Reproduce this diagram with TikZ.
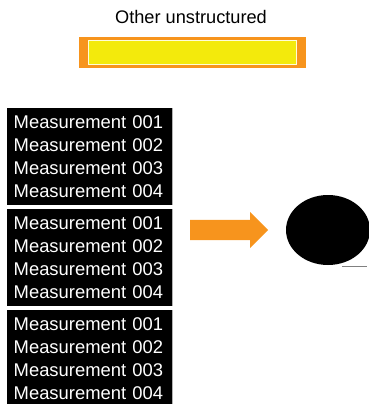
\documentclass[tikz,border=0pt]{standalone}
\usepackage{fontspec}
\setmainfont{Liberation Sans}
\usetikzlibrary{shapes.geometric,shapes.arrows}

\definecolor{boxorange}{RGB}{247,148,29}
\definecolor{boxyellow}{RGB}{243,234,12}

\tikzset{
	measbox/.style={anchor=north west, fill=black, text=white, align=left,
		minimum width=165pt, minimum height=97pt, inner xsep=6.5pt, text width=152pt,
		font=\fontsize{18.4pt}{23pt}\selectfont},
	bigarrow/.style={single arrow, fill=boxorange, minimum height=78pt, inner xsep=0pt,
		inner ysep=10pt, single arrow head extend=8pt, single arrow head indent=0pt},
}

\begin{document}
\begin{tikzpicture}[x=1pt, y=-1pt]

\useasboundingbox (0,0) rectangle (369,404);

% title and the bar below it
\node[font=\fontsize{18.2pt}{21pt}\selectfont] (title) at (191,17) {Other unstructured};
\filldraw[fill=boxorange, draw=boxorange] (79,37) rectangle (305,67);
\filldraw[fill=boxyellow, draw=white!85!yellow, thin] (88,40) rectangle (296,64);

% the three measurement blocks
\node[measbox] (meas1) at (7,108) {Measurement 001\\Measurement 002\\Measurement 003\\Measurement 004};
\node[measbox] (meas2) at (7,209) {Measurement 001\\Measurement 002\\Measurement 003\\Measurement 004};
\node[measbox] (meas3) at (7,310) {Measurement 001\\Measurement 002\\Measurement 003\\Measurement 004};

\foreach \m in {meas1, meas2, meas3}
{
	\draw[gray!60, line width=0.8pt] (\m.north east) -- (\m.south east);
}

% arrow and blob
\node[bigarrow, anchor=tail] (arrow) at (190,230) {};
\node[ellipse, fill=black, minimum width=84pt, minimum height=70pt, inner sep=0pt] (blob) at (328,230) {};

\coordinate (lineL) at (342,266);
\coordinate (lineR) at (367,266);
\draw[gray, line width=1pt] (lineL) -- (lineR);

\end{tikzpicture}
\end{document}
